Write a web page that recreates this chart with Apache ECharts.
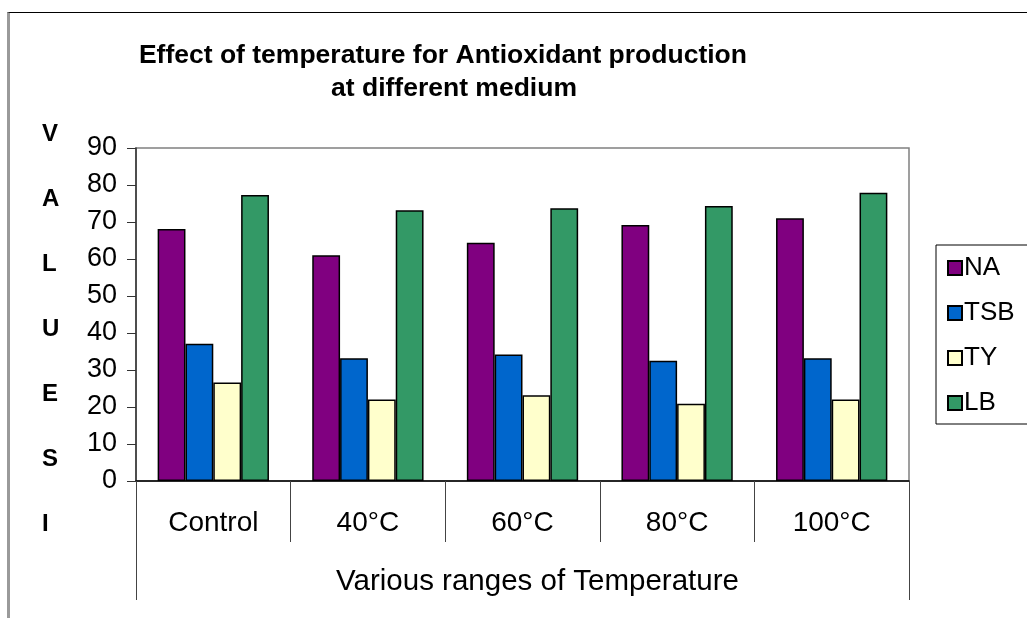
<!DOCTYPE html>
<html>
<head>
<meta charset="utf-8">
<script src="https://cdn.jsdelivr.net/npm/echarts@6/dist/echarts.min.js"></script>
<style>
  html, body { margin: 0; padding: 0; background: #fff; }
  #main { position: absolute; left: 0; top: 0; width: 1027px; height: 618px; }
  #frame { position: absolute; left: 7px; top: 12px; width: 1020px; height: 606px;
           border-top: 1px solid #000; border-left: 3px solid #9a9a9a; box-sizing: border-box; pointer-events: none; }
</style>
</head>
<body>
<div id="main"></div>
<div id="frame"></div>
<script>
// categories and series values
const categories = ["Control", "40°C", "60°C", "80°C", "100°C"];
const groupName = ["Various ranges of Temperature"];
const naValues = [68.1, 61.0, 64.4, 69.2, 71.0];
const tsbValues = [37.1, 33.2, 34.2, 32.5, 33.2];
const tyValues = [26.6, 22.0, 23.2, 20.9, 22.0];
const lbValues = [77.3, 73.2, 73.7, 74.3, 77.9];

const seriesNames = ["NA", "TSB", "TY", "LB"];
const seriesColors = ["#800080", "#0066CC", "#FFFFCC", "#339966"];
const seriesValues = [naValues, tsbValues, tyValues, lbValues];

const font = "Liberation Sans, Arial, sans-serif";

let chart = echarts.init(document.getElementById("main"));

// build bar series
let series = seriesNames.map((name, i) => ({
    name: name,
    type: "bar",
    xAxisIndex: 0,
    barGap: "0%",
    barCategoryGap: "28%",
    itemStyle: {
        color: seriesColors[i],
        borderColor: "#000",
        borderWidth: 1.5
    },
    data: seriesValues[i]
}));

let option = {
    animation: false,
    textStyle: { fontFamily: font },
    title: [
        {
            // trailing spaces push the first line a bit left, like the original
            text: "Effect of temperature for Antioxidant production   \nat different medium",
            left: 449,
            top: 34,
            textAlign: "center",
            textStyle: {
                fontFamily: font,
                fontSize: 26.5,
                fontWeight: "bold",
                color: "#000",
                lineHeight: 33
            }
        },
        {
            // vertical axis caption, one letter per line
            text: "V\nA\nL\nU\nE\nS\nI",
            left: 37,
            top: 97,
            textStyle: {
                fontFamily: font,
                fontSize: 24,
                fontWeight: "bold",
                color: "#000",
                lineHeight: 65
            }
        }
    ],
    legend: {
        orient: "vertical",
        left: 936,
        top: 245,
        padding: [10, 60, 8, 11],
        itemGap: 19,
        itemWidth: 14,
        itemHeight: 14,
        icon: "rect",
        borderColor: "#000",
        borderWidth: 1,
        textStyle: { fontFamily: font, fontSize: 26, color: "#000", padding: [0, 0, 0, -3] },
        data: seriesNames
    },
    grid: {
        left: 136,
        top: 148,
        right: 118,
        bottom: 137,
        show: true,
        borderColor: "#808080",
        borderWidth: 1.5
    },
    xAxis: [
        {
            type: "category",
            data: categories,
            axisLine: { lineStyle: { color: "#000", width: 1.5 } },
            axisTick: { show: true, interval: 0, alignWithLabel: false, length: 61, lineStyle: { color: "#444", width: 1 } },
            axisLabel: { interval: 0, margin: 28, fontSize: 28, color: "#000", fontFamily: font }
        },
        {
            type: "category",
            position: "bottom",
            data: groupName,
            axisLine: { show: false },
            axisTick: { show: true, interval: 0, alignWithLabel: false, length: 119, lineStyle: { color: "#444", width: 1 } },
            axisLabel: { margin: 86, fontSize: 29.5, color: "#000", fontFamily: font, padding: [0, 0, 0, 30] }
        }
    ],
    yAxis: {
        type: "value",
        min: 0,
        max: 90,
        interval: 10,
        axisLine: { show: true, lineStyle: { color: "#333", width: 1.5 } },
        axisTick: { show: true, length: 9, lineStyle: { color: "#333" } },
        splitLine: { show: false },
        axisLabel: { margin: 19, fontSize: 27, color: "#000", fontFamily: font }
    },
    series: series
};

chart.setOption(option);
</script>
</body>
</html>
